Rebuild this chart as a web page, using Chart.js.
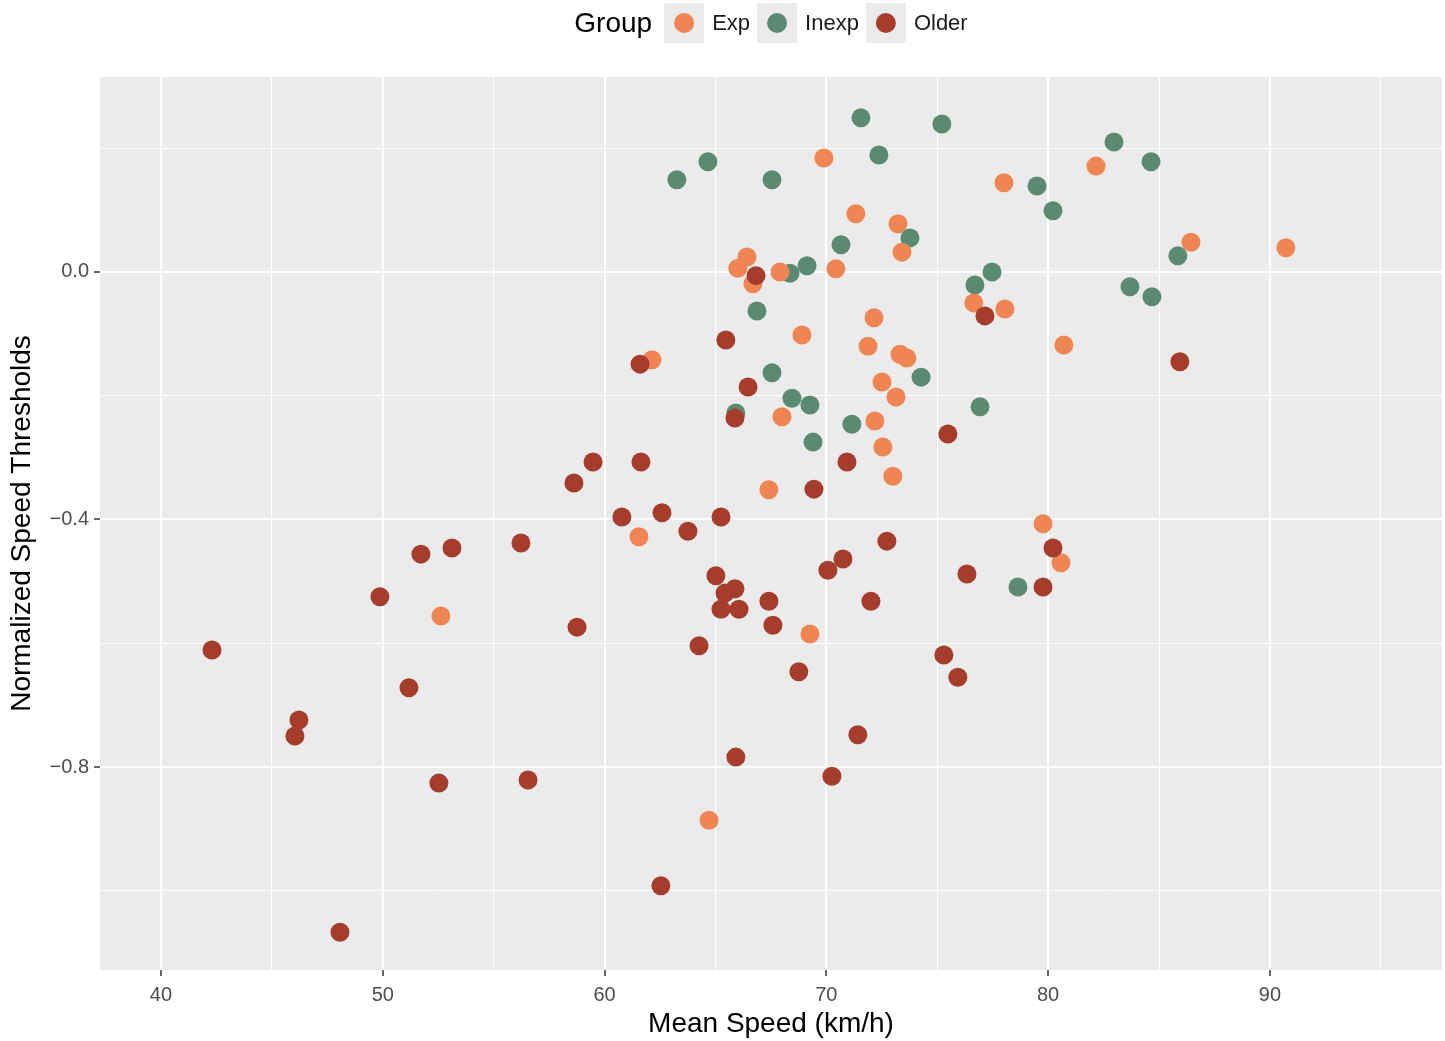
<!DOCTYPE html>
<html>
<head>
<meta charset="utf-8">
<script src="https://cdn.jsdelivr.net/npm/chart.js@4.4.1/dist/chart.umd.min.js"></script>
<style>
    html, body { margin: 0; padding: 0; background: #ffffff; overflow: hidden; }
    #wrap { width: 1445px; height: 1041px; }
</style>
</head>
<body>
<div id="wrap"><canvas id="speed_widget" width="1445" height="1041"></canvas></div>
<script>
// groups shown in the legend
const groups = ["Exp", "Inexp", "Older"];
const legendTitle = "Group";

// mean speed (km/h) and normalized threshold for each driver
const expSpeed = [69.89, 82.16, 78.01, 71.33, 73.23, 73.41, 86.44, 90.72, 66.42, 66.01, 66.69, 67.91,
    70.43, 76.65, 78.05, 72.15, 68.90, 62.14, 80.71, 71.88, 73.32, 73.63, 72.51, 73.14, 68.00, 72.19,
    72.55, 73.00, 67.41, 79.77, 61.55, 80.58, 52.62, 69.26, 64.71];
const expThreshold = [0.184, 0.171, 0.144, 0.094, 0.078, 0.032, 0.048, 0.039, 0.024, 0.006, -0.019, 0.000,
    0.005, -0.050, -0.060, -0.074, -0.102, -0.142, -0.118, -0.120, -0.133, -0.139, -0.178, -0.202, -0.234, -0.241,
    -0.283, -0.330, -0.352, -0.407, -0.428, -0.470, -0.556, -0.585, -0.886];

const inexpSpeed = [63.26, 64.66, 67.55, 71.56, 75.21, 72.37, 82.97, 84.64, 79.50, 80.22, 70.66, 73.77,
    69.13, 68.36, 66.87, 76.70, 77.47, 83.69, 84.68, 85.85, 67.55, 74.27, 68.45, 69.26, 65.92, 69.40,
    71.15, 76.93, 78.64];
const inexpThreshold = [0.149, 0.178, 0.149, 0.249, 0.239, 0.189, 0.210, 0.178, 0.139, 0.099, 0.044, 0.055,
    0.010, -0.002, -0.063, -0.021, 0.000, -0.024, -0.040, 0.026, -0.163, -0.170, -0.204, -0.215, -0.228, -0.275,
    -0.246, -0.218, -0.509];

const olderSpeed = [66.83, 77.15, 65.47, 61.60, 66.47, 85.94, 65.88, 75.48, 59.48, 61.64, 70.93, 58.62,
    69.44, 60.78, 65.25, 62.59, 63.76, 56.23, 53.12, 51.72, 72.73, 80.22, 65.02, 70.75, 70.07, 76.34,
    49.87, 79.77, 65.43, 65.88, 65.25, 66.06, 67.41, 72.01, 58.76, 67.59, 42.30, 64.26, 75.30, 75.93,
    51.18, 68.76, 46.22, 46.04, 71.42, 65.92, 52.53, 56.55, 70.25, 62.54, 48.07];
const olderThreshold = [-0.006, -0.071, -0.110, -0.149, -0.186, -0.145, -0.236, -0.262, -0.307, -0.307, -0.307, -0.341,
    -0.351, -0.396, -0.396, -0.389, -0.419, -0.438, -0.446, -0.456, -0.435, -0.446, -0.491, -0.464, -0.482, -0.488,
    -0.525, -0.509, -0.519, -0.512, -0.545, -0.545, -0.532, -0.532, -0.574, -0.571, -0.611, -0.604, -0.619, -0.655,
    -0.672, -0.646, -0.724, -0.750, -0.748, -0.784, -0.826, -0.821, -0.815, -0.992, -1.067];

const groupColors = ["#EE8552", "#5B8A73", "#A63D2C"];
const FONT = '"Liberation Sans", Arial, Helvetica, sans-serif';

//zip two arrays into {x, y} points
function toPoints(xs, ys) {
    return xs.map((x, i) => ({ x: x, y: ys[i] }));
}

function isMajor(value, step) {
    let r = value / step;
    return Math.abs(r - Math.round(r)) < 1e-6;
}

//grey ggplot panel behind the grid
const panelBackground = {
    id: "panelBackground",
    beforeDraw(chart) {
        const { ctx, chartArea } = chart;
        ctx.save();
        ctx.fillStyle = "#EBEBEB";
        ctx.fillRect(chartArea.left, chartArea.top, chartArea.right - chartArea.left, chartArea.bottom - chartArea.top);
        ctx.restore();
    }
};

//legend in one row: title, then grey key box with a dot, then label
const groupLegend = {
    id: "groupLegend",
    afterDraw(chart) {
        const ctx = chart.ctx;
        const area = chart.chartArea;
        const key = 40, gapTitle = 12, gapKey = 8, gapItem = 7, cy = 23;
        ctx.save();
        ctx.textBaseline = "middle";
        ctx.textAlign = "left";
        ctx.font = "28px " + FONT;
        let titleW = ctx.measureText(legendTitle).width;
        ctx.font = "22px " + FONT;
        let labelW = groups.map(g => ctx.measureText(g).width);
        let total = titleW + gapTitle + labelW.reduce((a, b) => a + b, 0)
            + groups.length * (key + gapKey) + (groups.length - 1) * gapItem;
        let x = (area.left + area.right) / 2 - total / 2;

        ctx.fillStyle = "#000000";
        ctx.font = "28px " + FONT;
        ctx.fillText(legendTitle, x, cy + 1);
        x += titleW + gapTitle;

        ctx.font = "22px " + FONT;
        groups.forEach((g, i) => {
            ctx.fillStyle = "#EBEBEB";
            ctx.fillRect(x, cy - key / 2, key, key);
            ctx.beginPath();
            ctx.arc(x + key / 2, cy, 10, 0, Math.PI * 2);
            ctx.fillStyle = groupColors[i];
            ctx.fill();
            x += key + gapKey;
            ctx.fillStyle = "#1A1A1A";
            ctx.fillText(g, x, cy + 1);
            x += labelW[i] + gapItem;
        });
        ctx.restore();
    }
};

class SpeedWidget {
    constructor() {
        this.canvas = null;
        this.chart = null;
    }

    getDatasets() {
        let pairs = [
            [expSpeed, expThreshold],
            [inexpSpeed, inexpThreshold],
            [olderSpeed, olderThreshold]
        ];
        // Older drawn on top, Inexp at the bottom
        let drawOrder = [1, 2, 0];
        return groups.map((g, i) => ({
            label: g,
            data: toPoints(pairs[i][0], pairs[i][1]),
            backgroundColor: groupColors[i],
            borderColor: groupColors[i],
            borderWidth: 0,
            pointRadius: 9.5,
            order: drawOrder[i]
        }));
    }

    start() {
        this.canvas = document.querySelector("#speed_widget").getContext("2d");
        this.chart = new Chart(this.canvas, {
            type: "scatter",
            data: { datasets: this.getDatasets() },
            plugins: [panelBackground, groupLegend],
            options: {
                responsive: false,
                animation: false,
                events: [],
                //no extra room for the dot radius, the panel edges are fixed
                layout: { autoPadding: false, padding: { top: 77, right: 3, left: 0, bottom: 0 } },
                plugins: {
                    legend: { display: false },
                    tooltip: { enabled: false }
                },
                scales: {
                    x: {
                        type: "linear",
                        min: 37.25,
                        max: 97.76,
                        border: { display: false },
                        grid: {
                            color: "#FFFFFF",
                            lineWidth: c => isMajor(c.tick.value, 10) ? 2 : 1,
                            tickLength: 6,
                            tickColor: c => isMajor(c.tick.value, 10) ? "#333333" : "rgba(0,0,0,0)",
                            tickWidth: 1.5
                        },
                        ticks: {
                            stepSize: 5,
                            includeBounds: false,
                            maxRotation: 0,
                            padding: 7,
                            color: "#4D4D4D",
                            font: { family: FONT, size: 20 },
                            callback: v => isMajor(v, 10) ? String(Math.round(v)) : ""
                        },
                        title: {
                            display: true,
                            text: "Mean Speed (km/h)",
                            color: "#000000",
                            font: { family: FONT, size: 28 },
                            padding: { top: 0, bottom: 0 }
                        },
                        afterFit: scale => {
                            scale.height = 71;
                            scale.paddingLeft = 0;
                            scale.paddingRight = 0;
                        }
                    },
                    y: {
                        type: "linear",
                        min: -1.128,
                        max: 0.315,
                        border: { display: false },
                        grid: {
                            color: "#FFFFFF",
                            lineWidth: c => isMajor(c.tick.value, 0.4) ? 2 : 1,
                            tickLength: 6,
                            tickColor: c => isMajor(c.tick.value, 0.4) ? "#333333" : "rgba(0,0,0,0)",
                            tickWidth: 1.5
                        },
                        ticks: {
                            stepSize: 0.2,
                            includeBounds: false,
                            padding: 5,
                            color: "#4D4D4D",
                            font: { family: FONT, size: 20 },
                            callback: v => isMajor(v, 0.4) ? v.toFixed(1).replace("-", "\u2212") : ""
                        },
                        title: {
                            display: true,
                            text: "Normalized Speed Thresholds",
                            color: "#000000",
                            font: { family: FONT, size: 28 },
                            padding: { top: 5, bottom: 0 }
                        },
                        afterFit: scale => {
                            scale.width = 100;
                            scale.paddingTop = 0;
                            scale.paddingBottom = 0;
                        }
                    }
                }
            }
        });
    }
}

const widget = new SpeedWidget();
widget.start();
</script>
</body>
</html>
